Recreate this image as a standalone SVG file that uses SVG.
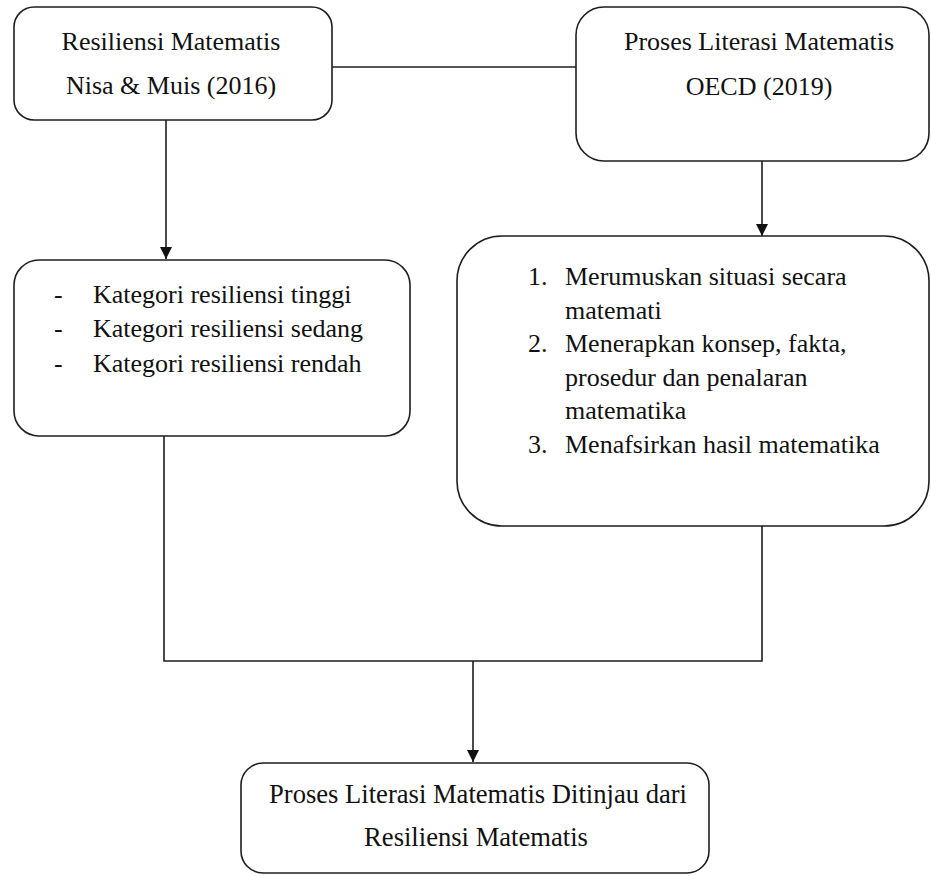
<svg xmlns="http://www.w3.org/2000/svg" width="931" height="876" viewBox="0 0 931 876">
  <style>
    .box { fill: #ffffff; stroke: #1e1e1e; stroke-width: 1.6; }
    .txt { font-family: 'Liberation Serif', 'Tinos', 'DejaVu Serif', serif; font-size: 26px; fill: #111111; }
    .big { font-size: 26.6px; }
    .mid { text-anchor: middle; }
    .line { fill: none; stroke: #1e1e1e; stroke-width: 1.6; }
  </style>
  <defs>
    <marker id="arrow" markerUnits="userSpaceOnUse" markerWidth="12" markerHeight="14" refX="12" refY="6" orient="auto">
      <path d="M0,0 L12,6 L0,12 Z" fill="#111111"/>
    </marker>
  </defs>
  <rect width="931" height="876" fill="#ffffff"/>

  <g id="connectors">
    <line class="line" x1="332" y1="67" x2="576" y2="67"/>
    <line class="line" x1="166" y1="120" x2="166" y2="259" marker-end="url(#arrow)"/>
    <line class="line" x1="762" y1="161" x2="762" y2="236" marker-end="url(#arrow)"/>
    <polyline class="line" points="164,436 164,661 762,661 762,526"/>
    <line class="line" x1="473" y1="661" x2="473" y2="762" marker-end="url(#arrow)"/>
  </g>

  <g id="node-resiliensi">
    <rect class="box" x="14" y="7" width="318" height="113" rx="20" ry="20"/>
    <text class="txt mid" x="171" y="50">Resiliensi Matematis</text>
    <text class="txt mid" x="171" y="94">Nisa &amp; Muis (2016)</text>
  </g>

  <g id="node-proses-literasi">
    <rect class="box" x="576" y="7" width="353" height="154" rx="28" ry="28"/>
    <text class="txt mid" x="759" y="50">Proses Literasi Matematis</text>
    <text class="txt mid" x="759" y="95">OECD (2019)</text>
  </g>

  <g id="node-kategori">
    <rect class="box" x="14" y="260" width="396" height="176" rx="25" ry="25"/>
    <text class="txt" x="54" y="303">-</text>
    <text class="txt" x="93" y="303">Kategori resiliensi tinggi</text>
    <text class="txt" x="54" y="337">-</text>
    <text class="txt" x="93" y="337">Kategori resiliensi sedang</text>
    <text class="txt" x="54" y="372">-</text>
    <text class="txt" x="93" y="372">Kategori resiliensi rendah</text>
  </g>

  <g id="node-proses-list">
    <rect class="box" x="457" y="236" width="472" height="290" rx="45" ry="45"/>
    <text class="txt" x="528" y="285">1.</text>
    <text class="txt" x="565" y="285">Merumuskan situasi secara</text>
    <text class="txt" x="565" y="318.5">matemati</text>
    <text class="txt" x="528" y="352">2.</text>
    <text class="txt" x="565" y="352">Menerapkan konsep, fakta,</text>
    <text class="txt" x="565" y="385.5">prosedur dan penalaran</text>
    <text class="txt" x="565" y="419">matematika</text>
    <text class="txt" x="528" y="452.5">3.</text>
    <text class="txt" x="565" y="452.5">Menafsirkan hasil matematika</text>
  </g>

  <g id="node-hasil">
    <rect class="box" x="241" y="763" width="468" height="110" rx="22" ry="22"/>
    <text class="txt big mid" x="478" y="803">Proses Literasi Matematis Ditinjau dari</text>
    <text class="txt big mid" x="476" y="846">Resiliensi Matematis</text>
  </g>
</svg>
